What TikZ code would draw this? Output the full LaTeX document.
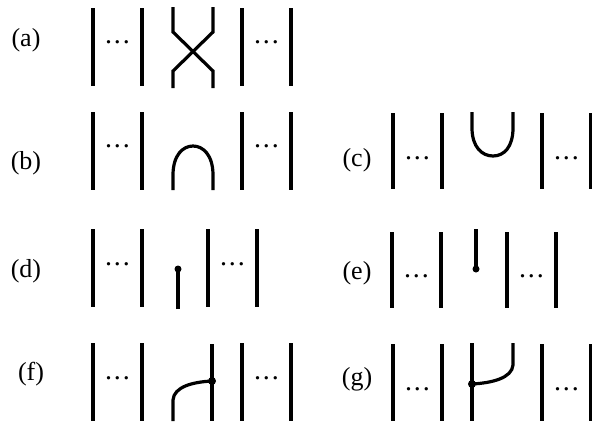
\documentclass[tikz,border=0pt]{standalone}
\usepackage{amsmath, amssymb}
\usepackage{fontspec}
\setmainfont{Liberation Serif}
\usetikzlibrary{positioning}
\newcommand{\threedots}{.\kern1.8pt.\kern1.8pt.}
\tikzset{
    strand/.style={line width=3.4pt},
    wire/.style={line width=3.2pt},
    vertexdot/.style={fill=black, circle, inner sep=0pt, minimum size=8pt},
    dotsnode/.style={inner sep=0pt, yshift=-1.5pt, font=\fontsize{28}{28}\selectfont},
    caselabel/.style={inner sep=0pt, yshift=-1pt, font=\fontsize{26}{28}\selectfont}
}
\begin{document}
\begin{tikzpicture}[x=1pt, y=-1pt]
    \useasboundingbox (0,0) rectangle (592,421);

    % Pairs of strands with dots: left x / top y / bottom y / dots y
    \foreach \xa/\ytop/\ybot/\ydots in {
        93/8/86/41, 242/8/86/41,
        93/112/190/145, 242/112/190/145,
        93/229/307/263, 208/229/307/263,
        93/343/421/377, 242/343/421/377,
        393/113/189/157, 542/113/189/157,
        392/232/308/275, 507/232/308/275,
        393/344/421/388, 542/344/421/388
    }{
        \draw[strand] (\xa,\ytop) -- (\xa,\ybot);
        \draw[strand] (\xa+49,\ytop) -- (\xa+49,\ybot);
        \node[dotsnode] (dots\xa\ytop) at (\xa+24.5,\ydots) {\threedots};
    }

    % Labels
    \node[caselabel] (labela) at (26,39) {(a)};
    \node[caselabel] (labelb) at (26,162) {(b)};
    \node[caselabel] (labelc) at (357,159) {(c)};
    \node[caselabel] (labeld) at (26,270) {(d)};
    \node[caselabel] (labele) at (357,272) {(e)};
    \node[caselabel] (labelf) at (31,373) {(f)};
    \node[caselabel] (labelg) at (357,378) {(g)};

    % Crossing
    \draw[wire] (173,7) -- (173,32) -- (213,71) -- (213,88);
    \draw[wire] (213,7) -- (213,32) -- (173,71) -- (173,88);

    % Cap
    \draw[wire] (173,190) -- (173,175) .. controls (173,155) and (183,146) .. (193,146)
        .. controls (203,146) and (213,155) .. (213,175) -- (213,190);

    % Cup
    \draw[wire] (472,112) -- (472,128) .. controls (472,147) and (482,156) .. (493,156)
        .. controls (504,156) and (513,147) .. (513,128) -- (513,112);

    % Sticks
    \draw[wire] (178,309) -- (178,269);
    \node[vertexdot, minimum size=7pt] (stickd) at (178,269) {};
    \draw[wire] (476,229) -- (476,269);
    \node[vertexdot, minimum size=7pt] (sticke) at (476,269) {};

    % Merges
    \draw[wire] (212,344) -- (212,421);
    \draw[wire] (173,421) -- (173,400) .. controls (174,387) and (192,382) .. (212,381);
    \node[vertexdot] (mergef) at (212,381) {};
    \draw[wire] (472,343) -- (472,421);
    \draw[wire] (513,343) -- (513,365) .. controls (512,378) and (492,383) .. (472,384);
    \node[vertexdot] (mergeg) at (472,384) {};
\end{tikzpicture}
\end{document}
